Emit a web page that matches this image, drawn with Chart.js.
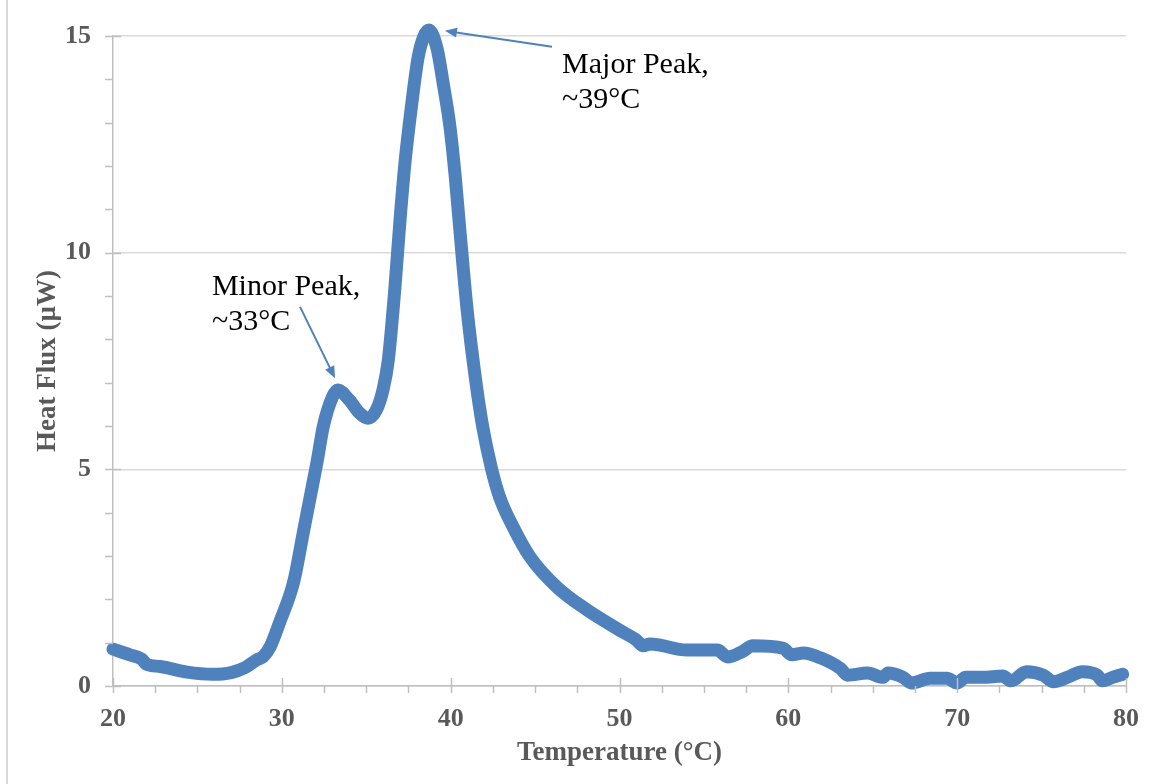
<!DOCTYPE html>
<html>
<head>
<meta charset="utf-8">
<script src="https://cdn.jsdelivr.net/npm/chart.js@4.4.1/dist/chart.umd.min.js"></script>
<style>
  html, body { margin: 0; padding: 0; background: #fff; }
  #wrap { position: relative; width: 1151px; height: 784px; }
  #frame { position: absolute; left: 6px; top: 0; width: 2px; height: 784px; background: #d9d9d9; }
</style>
</head>
<body>
<div id="wrap">
  <div id="frame"></div>
  <canvas id="chart" width="1151" height="784"></canvas>
</div>
<script>
// temperature (°C) and heat flux (µW)
const temps = [20, 21, 21.7, 22, 22.8, 24.4, 25.9, 27, 27.8, 28.5, 28.9, 29.3, 29.9, 30.7, 31.3, 31.8, 32.1, 32.45,
  33, 33.3, 34, 34.6, 35.1, 35.6, 36, 36.3, 36.7, 37, 37.3, 37.7, 38.07, 38.4, 38.7, 39.2, 39.56, 39.96,
  40.26, 40.55, 40.97, 41.5, 41.9, 42.4, 42.9, 43.7, 44.7, 46.3, 48.1, 50, 51, 51.4, 51.8, 54, 55.8, 56.4,
  57.3, 57.9, 59.7, 60.2, 60.9, 61.9, 63.1, 63.5, 64.7, 65.6, 65.9, 66.8, 67.3, 68.4, 69.4, 70, 70.5, 71.5,
  72.7, 73.2, 74.1, 75.1, 75.7, 76.7, 77.4, 78.3, 78.6, 79.2, 79.8];
const flux = [0.85, 0.72, 0.62, 0.5, 0.45, 0.32, 0.27, 0.31, 0.42, 0.6, 0.68, 0.9, 1.5, 2.4, 3.6, 4.6, 5.2, 5.98,
  6.67, 6.83, 6.6, 6.3, 6.18, 6.37, 6.85, 7.5, 9.2, 10.75, 12.1, 13.45, 14.5, 14.98, 15.14, 14.7, 13.9, 12.9,
  11.8, 10.5, 8.7, 7.0, 5.98, 5.05, 4.36, 3.67, 2.98, 2.28, 1.75, 1.29, 1.06, 0.93, 0.97, 0.83, 0.83, 0.67,
  0.8, 0.93, 0.87, 0.72, 0.76, 0.65, 0.4, 0.25, 0.3, 0.2, 0.3, 0.2, 0.07, 0.18, 0.18, 0.07, 0.2, 0.2,
  0.23, 0.12, 0.33, 0.25, 0.1, 0.23, 0.33, 0.25, 0.12, 0.2, 0.27];

const xTicks = [20, 30, 40, 50, 60, 70, 80];
const yTicks = [0, 5, 10, 15];

// callouts: text anchor, arrow tail and arrow tip, in data units
const notes = [
  { lines: ['Minor Peak,', '~33°C'], at: [25.86, 9.02], from: [31.08, 8.75], to: [33.15, 7.1] },
  { lines: ['Major Peak,', '~39°C'], at: [46.6, 14.15], from: [46.0, 14.75], to: [39.66, 15.12] }
];

const blue = '#4f81bd';
const axisGray = '#bfbfbf';
const tickFont = { family: 'Liberation Serif', size: 26, weight: 'bold' };
const titleFont = { family: 'Liberation Serif', size: 27, weight: 'bold' };

const points = temps.map((t, i) => ({ x: t, y: flux[i] }));

const tickMarks = {
  id: 'tickMarks',
  afterDraw(chart) {
    const { ctx, scales: { x, y } } = chart;
    const y0 = y.getPixelForValue(0);
    const x0 = x.getPixelForValue(20);
    ctx.save();
    ctx.strokeStyle = axisGray;
    ctx.lineWidth = 1.5;
    ctx.beginPath();
    for (let t = 20; t <= 80.01; t += 2.5) {
      const px = Math.round(x.getPixelForValue(t)) + 0.5;
      const major = xTicks.includes(t);
      ctx.moveTo(px, major ? y0 - 8 : y0);
      ctx.lineTo(px, y0 + 7);
    }
    for (let v = 0; v <= 15; v++) {
      const py = Math.round(y.getPixelForValue(v)) + 0.5;
      const major = yTicks.includes(v);
      ctx.moveTo(x0 - 8, py);
      ctx.lineTo(major ? x0 + 8 : x0, py);
    }
    ctx.stroke();
    ctx.restore();
  }
};

const callouts = {
  id: 'callouts',
  afterDatasetsDraw(chart) {
    const { ctx, scales: { x, y } } = chart;
    ctx.save();
    notes.forEach(n => {
      ctx.fillStyle = '#000';
      ctx.font = '30px "Liberation Serif"';
      ctx.textBaseline = 'alphabetic';
      ctx.textAlign = 'left';
      const tx = x.getPixelForValue(n.at[0]);
      const ty = y.getPixelForValue(n.at[1]);
      n.lines.forEach((s, i) => ctx.fillText(s, tx, ty + i * 35));

      const x1 = x.getPixelForValue(n.from[0]), y1 = y.getPixelForValue(n.from[1]);
      const x2 = x.getPixelForValue(n.to[0]), y2 = y.getPixelForValue(n.to[1]);
      const a = Math.atan2(y2 - y1, x2 - x1);
      ctx.strokeStyle = blue;
      ctx.fillStyle = blue;
      ctx.lineWidth = 2;
      ctx.beginPath();
      ctx.moveTo(x1, y1);
      ctx.lineTo(x2 - 8 * Math.cos(a), y2 - 8 * Math.sin(a));
      ctx.stroke();
      ctx.beginPath();
      ctx.moveTo(x2, y2);
      ctx.lineTo(x2 - 12 * Math.cos(a) + 5 * Math.sin(a), y2 - 12 * Math.sin(a) - 5 * Math.cos(a));
      ctx.lineTo(x2 - 12 * Math.cos(a) - 5 * Math.sin(a), y2 - 12 * Math.sin(a) + 5 * Math.cos(a));
      ctx.closePath();
      ctx.fill();
    });
    ctx.restore();
  }
};

new Chart(document.getElementById('chart'), {
  type: 'line',
  data: {
    datasets: [{
      data: points,
      borderColor: blue,
      borderWidth: 13,
      borderCapStyle: 'round',
      borderJoinStyle: 'round',
      pointRadius: 0,
      cubicInterpolationMode: 'monotone',
      clip: false,
      fill: false
    }]
  },
  options: {
    responsive: false,
    animation: false,
    layout: { padding: { left: 32, right: 25, top: 36, bottom: 15 } },
    plugins: { legend: { display: false }, tooltip: { enabled: false } },
    scales: {
      x: {
        type: 'linear',
        min: 20,
        max: 80,
        afterBuildTicks: s => { s.ticks = xTicks.map(v => ({ value: v })); },
        ticks: { font: tickFont, color: '#595959', padding: 18, maxRotation: 0 },
        grid: { display: false, drawTicks: false },
        border: { display: true, color: axisGray, width: 1.5 },
        title: { display: true, text: 'Temperature (°C)', font: titleFont, color: '#595959', padding: 0 },
        afterFit: s => { s.height = 83; s.paddingLeft = 0; s.paddingRight = 0; }
      },
      y: {
        min: 0,
        max: 15,
        afterBuildTicks: s => { s.ticks = yTicks.map(v => ({ value: v })); },
        ticks: { font: tickFont, color: '#595959', padding: 22 },
        grid: { color: '#d9d9d9', lineWidth: 1.5, drawTicks: false },
        border: { display: true, color: axisGray, width: 1.5 },
        title: { display: true, text: 'Heat Flux (µW)', font: titleFont, color: '#595959', padding: 0 },
        afterFit: s => { s.width = 81; s.paddingTop = 0; s.paddingBottom = 0; }
      }
    }
  },
  plugins: [tickMarks, callouts]
});
</script>
</body>
</html>
